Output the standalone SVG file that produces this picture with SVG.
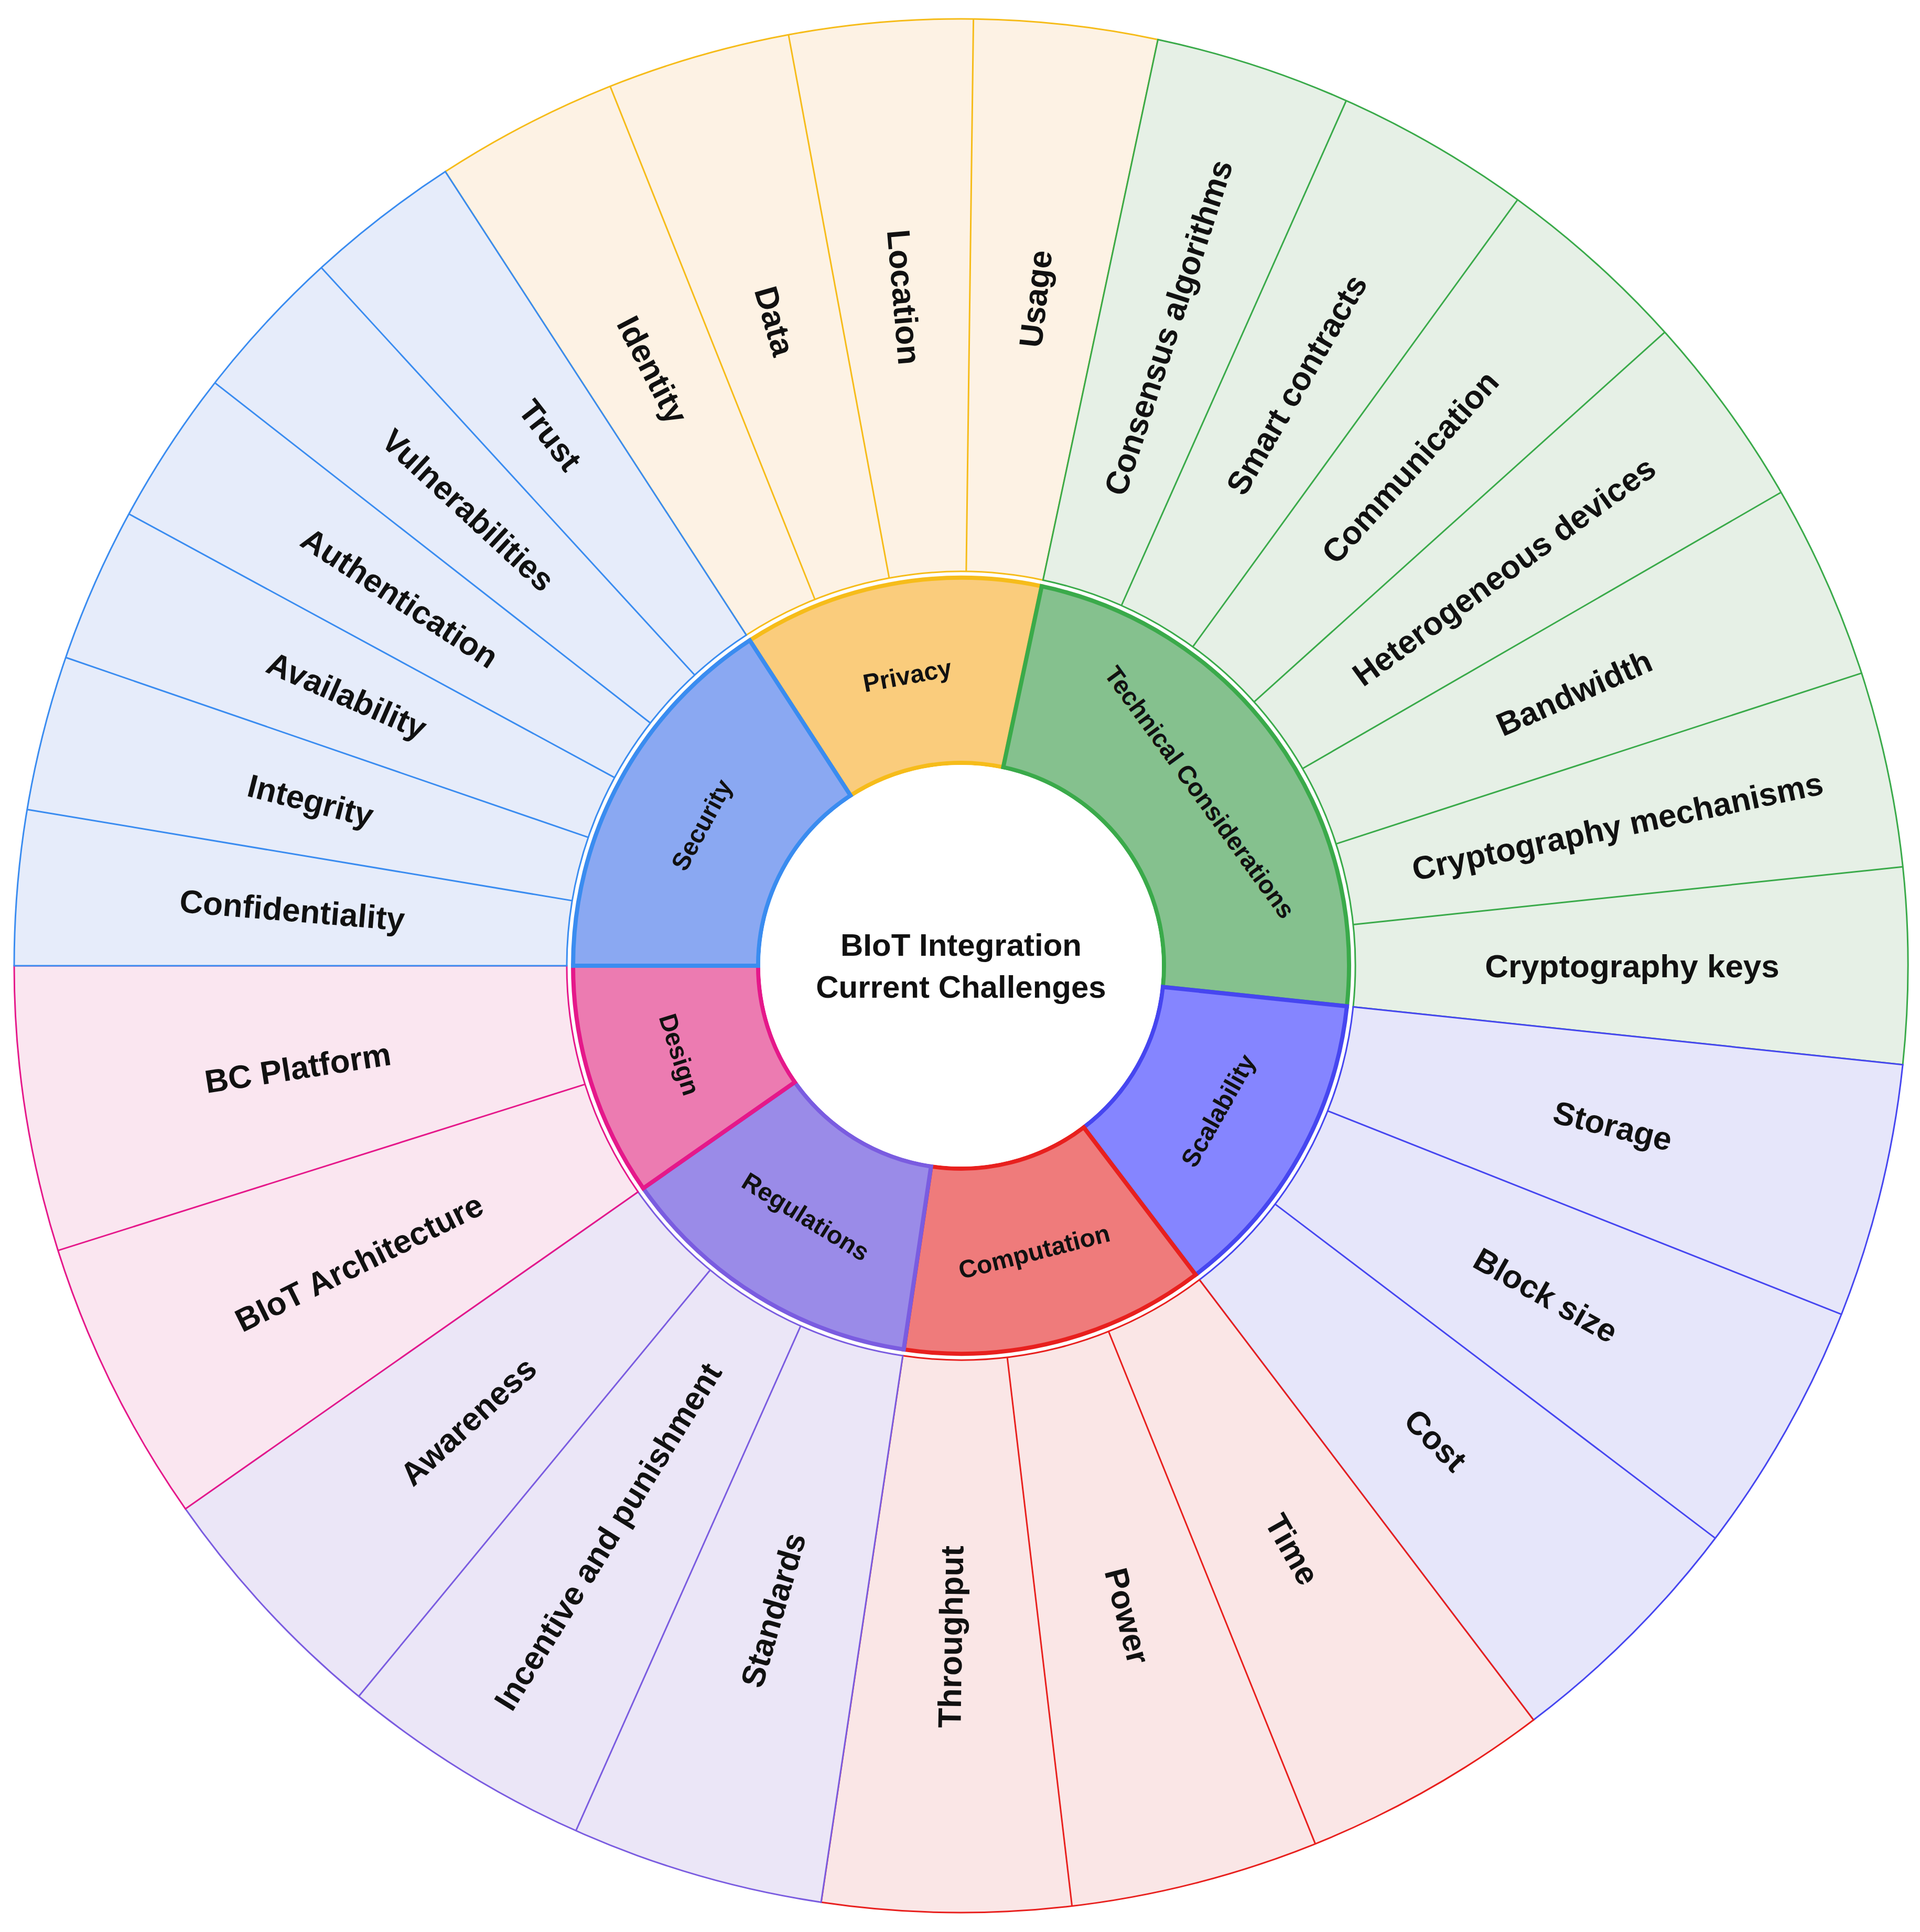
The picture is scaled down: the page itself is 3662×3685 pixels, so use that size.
<svg xmlns="http://www.w3.org/2000/svg" width="3662" height="3685" viewBox="0 0 3662 3685">
<style>
text{font-family:"Liberation Sans",Arial,sans-serif;font-weight:bold;fill:#111;text-anchor:middle;dominant-baseline:central}
.o{font-size:62px}.m{font-size:48px}.c{font-size:60px}
.sep{stroke-width:3}
.po{fill:#FDF2E4;stroke:#F6BC1A;stroke-width:3}.pm{fill:#FACC7C;stroke:#F6BC1A;stroke-width:8}
.to{fill:#E6F0E6;stroke:#3AAA4A;stroke-width:3}.tm{fill:#85C18E;stroke:#3AAA4A;stroke-width:8}
.so{fill:#E6E6FA;stroke:#4646F0;stroke-width:3}.sm{fill:#8585FF;stroke:#4646F0;stroke-width:8}
.co{fill:#FAE6E6;stroke:#E8201E;stroke-width:3}.cm{fill:#EF7B7B;stroke:#E8201E;stroke-width:8}
.ro{fill:#EBE6F7;stroke:#7A5CE0;stroke-width:3}.rm{fill:#9A8BE8;stroke:#7A5CE0;stroke-width:8}
.do{fill:#FAE6F0;stroke:#E5188A;stroke-width:3}.dm{fill:#EC7BB1;stroke:#E5188A;stroke-width:8}
.eo{fill:#E6ECFA;stroke:#3A8CF0;stroke-width:3}.em{fill:#8AA8F2;stroke:#3A8CF0;stroke-width:8}
</style>
<rect width="3662" height="3685" fill="#fff"/>
<g transform="translate(1833 1842)">
<g id="outer-sectors">
<path class="po" transform="rotate(-123)" d="M752 0L1806 0A1806 1806 0 0 1 1277.04 1277.04L531.75 531.75A752 752 0 0 0 752 0Z"/>
<path class="to" transform="rotate(-78)" d="M752 0L1806 0A1806 1806 0 0 1 188.78 1796.10L78.61 747.88A752 752 0 0 0 752 0Z"/>
<path class="so" transform="rotate(6)" d="M752 0L1806 0A1806 1806 0 0 1 1236.30 1316.52L514.78 548.19A752 752 0 0 0 752 0Z"/>
<path class="co" transform="rotate(52.8)" d="M752 0L1806 0A1806 1806 0 0 1 1261.44 1292.45L525.25 538.16A752 752 0 0 0 752 0Z"/>
<path class="ro" transform="rotate(98.5)" d="M752 0L1806 0A1806 1806 0 0 1 1243.16 1310.02L517.64 545.48A752 752 0 0 0 752 0Z"/>
<path class="do" transform="rotate(145)" d="M752 0L1806 0A1806 1806 0 0 1 1479.38 1035.89L616.0 431.33A752 752 0 0 0 752 0Z"/>
<path class="eo" transform="rotate(180)" d="M752 0L1806 0A1806 1806 0 0 1 983.62 1514.64L409.57 630.68A752 752 0 0 0 752 0Z"/>
</g>
<g id="connectors">
<g stroke="#F6BC1A" class="sep"><line x1="752" x2="1806" transform="rotate(-111.75)"/><line x1="752" x2="1806" transform="rotate(-100.5)"/><line x1="752" x2="1806" transform="rotate(-89.25)"/></g>
<g stroke="#3AAA4A" class="sep"><line x1="752" x2="1806" transform="rotate(-66)"/><line x1="752" x2="1806" transform="rotate(-54)"/><line x1="752" x2="1806" transform="rotate(-42)"/><line x1="752" x2="1806" transform="rotate(-30)"/><line x1="752" x2="1806" transform="rotate(-18)"/><line x1="752" x2="1806" transform="rotate(-6)"/></g>
<g stroke="#4646F0" class="sep"><line x1="752" x2="1806" transform="rotate(21.6)"/><line x1="752" x2="1806" transform="rotate(37.2)"/></g>
<g stroke="#E8201E" class="sep"><line x1="752" x2="1806" transform="rotate(68.03)"/><line x1="752" x2="1806" transform="rotate(83.27)"/></g>
<g stroke="#7A5CE0" class="sep"><line x1="752" x2="1806" transform="rotate(114)"/><line x1="752" x2="1806" transform="rotate(129.5)"/></g>
<g stroke="#E5188A" class="sep"><line x1="752" x2="1806" transform="rotate(162.5)"/></g>
<g stroke="#3A8CF0" class="sep"><line x1="752" x2="1806" transform="rotate(-170.5)"/><line x1="752" x2="1806" transform="rotate(-161)"/><line x1="752" x2="1806" transform="rotate(-151.5)"/><line x1="752" x2="1806" transform="rotate(-142)"/><line x1="752" x2="1806" transform="rotate(-132.5)"/></g>
</g>
<g id="privacy"><path class="pm" transform="rotate(-123)" d="M387 0L740 0A740 740 0 0 1 523.26 523.26L273.65 273.65A387 387 0 0 0 387 0Z"/><text class="m" transform="rotate(-100.5) translate(563 0) rotate(90)">Privacy</text></g>
<g id="technical"><path class="tm" transform="rotate(-78)" d="M387 0L740 0A740 740 0 0 1 77.35 735.94L40.45 384.88A387 387 0 0 0 387 0Z"/><text class="m" transform="rotate(-36) translate(563 0) rotate(90)">Technical Considerations</text></g>
<g id="scalability"><path class="sm" transform="rotate(6)" d="M387 0L740 0A740 740 0 0 1 506.57 539.44L264.92 282.11A387 387 0 0 0 387 0Z"/><text class="m" transform="rotate(29.4) translate(563 0) rotate(-90)">Scalability</text></g>
<g id="computation"><path class="cm" transform="rotate(52.8)" d="M387 0L740 0A740 740 0 0 1 516.87 529.57L270.31 276.95A387 387 0 0 0 387 0Z"/><text class="m" transform="rotate(75.65) translate(563 0) rotate(-90)">Computation</text></g>
<g id="regulations"><path class="rm" transform="rotate(98.5)" d="M387 0L740 0A740 740 0 0 1 509.38 536.77L266.39 280.72A387 387 0 0 0 387 0Z"/><text class="m" transform="rotate(121.75) translate(563 0) rotate(-90)">Regulations</text></g>
<g id="design"><path class="dm" transform="rotate(145)" d="M387 0L740 0A740 740 0 0 1 606.17 424.45L317.01 221.98A387 387 0 0 0 387 0Z"/><text class="m" transform="rotate(162.5) translate(563 0) rotate(-90)">Design</text></g>
<g id="security"><path class="em" transform="rotate(180)" d="M387 0L740 0A740 740 0 0 1 403.03 620.62L210.78 324.57A387 387 0 0 0 387 0Z"/><text class="m" transform="rotate(-151.5) translate(563 0) rotate(90)">Security</text></g>
<g id="center"><circle r="383" fill="#fff"/><text class="c" y="-40">BIoT Integration</text><text class="c" y="40">Current Challenges</text></g>
<g id="outer-labels" class="o">
<text class="o" transform="rotate(-72) translate(1280 0)">Consensus algorithms</text>
<text class="o" transform="rotate(-60) translate(1280 0)">Smart contracts</text>
<text class="o" transform="rotate(-48) translate(1280 0)">Communication</text>
<text class="o" transform="rotate(-36) translate(1280 0)">Heterogeneous devices</text>
<text class="o" transform="rotate(-24) translate(1280 0)">Bandwidth</text>
<text class="o" transform="rotate(-12) translate(1280 0)">Cryptography mechanisms</text>
<text class="o" transform="rotate(0) translate(1280 0)">Cryptography keys</text>
<text class="o" transform="rotate(13.8) translate(1280 0)">Storage</text>
<text class="o" transform="rotate(29.4) translate(1280 0)">Block size</text>
<text class="o" transform="rotate(45) translate(1280 0)">Cost</text>
<text class="o" transform="rotate(60.42) translate(1280 0)">Time</text>
<text class="o" transform="rotate(75.65) translate(1280 0)">Power</text>
<text class="o" transform="rotate(90.88) translate(1280 0) rotate(180)">Throughput</text>
<text class="o" transform="rotate(106.25) translate(1280 0) rotate(180)">Standards</text>
<text class="o" transform="rotate(121.75) translate(1280 0) rotate(180)">Incentive and punishment</text>
<text class="o" transform="rotate(137.25) translate(1280 0) rotate(180)">Awareness</text>
<text class="o" transform="rotate(153.75) translate(1280 0) rotate(180)">BIoT Architecture</text>
<text class="o" transform="rotate(171.25) translate(1280 0) rotate(180)">BC Platform</text>
<text class="o" transform="rotate(-175.25) translate(1280 0) rotate(180)">Confidentiality</text>
<text class="o" transform="rotate(-165.75) translate(1280 0) rotate(180)">Integrity</text>
<text class="o" transform="rotate(-156.25) translate(1280 0) rotate(180)">Availability</text>
<text class="o" transform="rotate(-146.75) translate(1280 0) rotate(180)">Authentication</text>
<text class="o" transform="rotate(-137.25) translate(1280 0) rotate(180)">Vulnerabilities</text>
<text class="o" transform="rotate(-127.75) translate(1280 0) rotate(180)">Trust</text>
<text class="o" transform="rotate(-117.375) translate(1280 0) rotate(180)">Identity</text>
<text class="o" transform="rotate(-106.125) translate(1280 0) rotate(180)">Data</text>
<text class="o" transform="rotate(-94.875) translate(1280 0) rotate(180)">Location</text>
<text class="o" transform="rotate(-83.625) translate(1280 0)">Usage</text>
</g>
</g>
</svg>
